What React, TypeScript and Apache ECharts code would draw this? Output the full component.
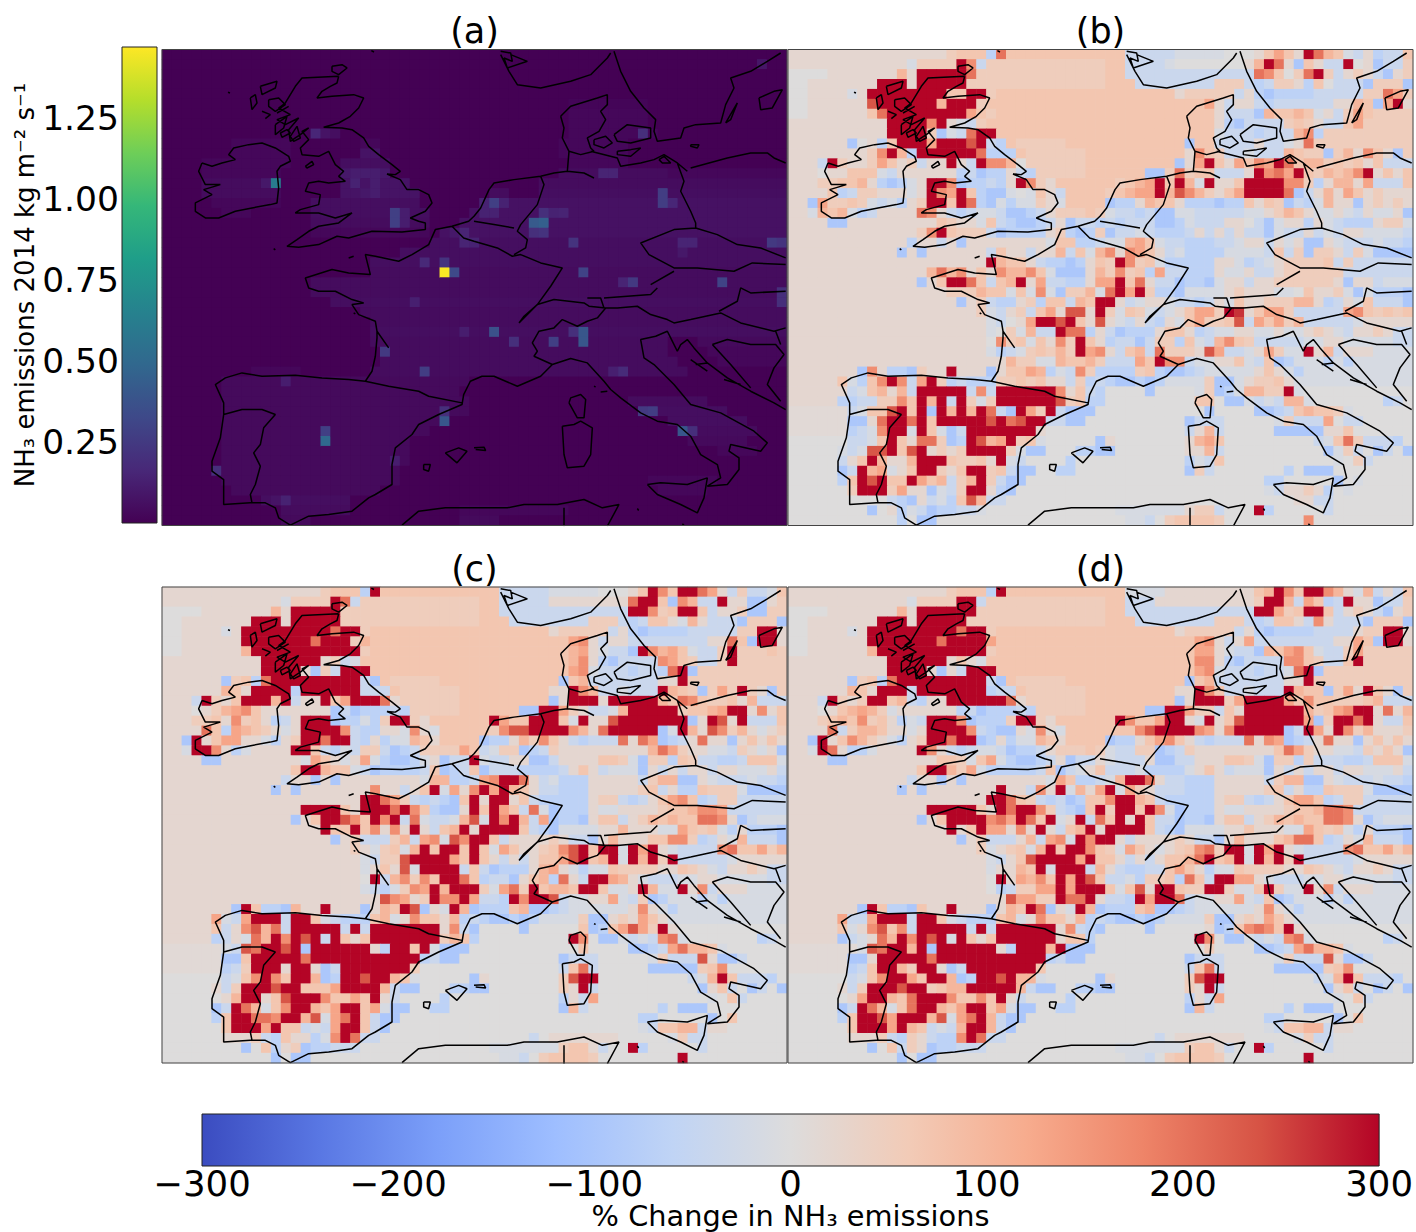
import React, { useEffect, useRef } from "react";
import * as echarts from "echarts";

const COLS = Array.from({ length: 63 }, (_, i) => String(i));
const ROWS = Array.from({ length: 48 }, (_, i) => String(i));
const panelTitles = ["(a)", "(b)", "(c)", "(d)"];
const changeTicksName = "% Change in NH₃ emissions";
const emissionName = "NH₃ emissions 2014 kg m⁻² s⁻¹";

// level code -> % change
const LEVELS: Record<string, number> = { a: -95, b: -65, c: -40, d: -15, "0": 0, e: 10, "1": 20, "2": 52, "3": 70, "4": 100, "5": 130, "6": 165, "7": 200, "8": 235, "9": 265, X: 300 };
const coolwarm = ["#3b4cc0", "#5977e3", "#7b9ff9", "#9ebeff", "#c0d4f5", "#dddcdc", "#f2cbb7", "#f7ac8e", "#ee8468", "#d65244", "#b40426"];
const viridis = ["#440154", "#482878", "#3e4989", "#31688e", "#26828e", "#1f9e89", "#35b779", "#6ece58", "#b5de2b", "#fde725"];

// panel (a): [row, fromCol, toCol, kg m-2 s-1] background land bands
const panelABands: number[][] = [
  [5, 41, 48, 0.02], [6, 41, 48, 0.03], [7, 41, 48, 0.03], [8, 15, 17, 0.06], [8, 41, 49, 0.03], [9, 7, 12, 0.03], [9, 20, 21, 0.03], [9, 40, 46, 0.03],
  [10, 7, 12, 0.03], [10, 20, 21, 0.08], [10, 40, 46, 0.03], [11, 4, 12, 0.03], [11, 18, 22, 0.06], [11, 41, 46, 0.03],
  [12, 4, 11, 0.03], [12, 18, 22, 0.1], [12, 40, 50, 0.05], [12, 51, 62, 0.03], [13, 4, 11, 0.05], [13, 18, 24, 0.08], [13, 38, 62, 0.05],
  [14, 4, 11, 0.05], [14, 18, 25, 0.08], [14, 33, 34, 0.05], [14, 38, 62, 0.06], [15, 5, 11, 0.03], [15, 15, 25, 0.06], [15, 32, 62, 0.07],
  [16, 6, 8, 0.03], [16, 15, 26, 0.06], [16, 31, 62, 0.07], [17, 15, 26, 0.05], [17, 30, 62, 0.07], [18, 15, 26, 0.03], [18, 28, 62, 0.07],
  [19, 27, 62, 0.06], [20, 24, 62, 0.06], [21, 21, 62, 0.06], [22, 21, 62, 0.05], [23, 15, 62, 0.05], [24, 15, 62, 0.05], [25, 17, 62, 0.06],
  [26, 20, 62, 0.05], [27, 21, 62, 0.05], [28, 21, 62, 0.06], [29, 21, 50, 0.05], [29, 54, 62, 0.04], [30, 22, 50, 0.05], [30, 55, 62, 0.03],
  [31, 22, 51, 0.05], [31, 56, 62, 0.03], [32, 9, 13, 0.03], [32, 21, 42, 0.05], [32, 42, 52, 0.05], [33, 6, 30, 0.04], [34, 6, 29, 0.04], [35, 6, 30, 0.04],
  [35, 47, 54, 0.05], [36, 6, 30, 0.04], [36, 48, 56, 0.06], [37, 6, 27, 0.04], [37, 51, 58, 0.06], [38, 6, 26, 0.04], [38, 52, 59, 0.05],
  [39, 6, 24, 0.04], [39, 53, 58, 0.04], [40, 6, 24, 0.04], [40, 56, 59, 0.03], [41, 6, 24, 0.04], [42, 5, 23, 0.04], [43, 6, 23, 0.04], [43, 49, 55, 0.03],
  [44, 7, 21, 0.04], [44, 50, 54, 0.03], [45, 10, 18, 0.06], [46, 12, 18, 0.05], [46, 30, 40, 0.03], [47, 12, 14, 0.04], [47, 30, 33, 0.04],
];
// panel (a): [col, row, value] individually readable cells
const panelASpots: number[][] = [
  [28, 22, 1.46], [29, 22, 0.33], [28, 21, 0.22], [26, 21, 0.17], [11, 13, 0.62], [10, 13, 0.1], [23, 16, 0.28], [23, 17, 0.28], [24, 16, 0.12], [24, 17, 0.12],
  [37, 17, 0.42], [38, 17, 0.45], [38, 16, 0.2], [37, 18, 0.2], [38, 18, 0.22], [33, 15, 0.28], [32, 15, 0.14], [34, 15, 0.14], [32, 16, 0.14], [33, 16, 0.14],
  [41, 19, 0.22], [50, 14, 0.27], [50, 15, 0.27], [51, 15, 0.16], [42, 22, 0.3], [47, 23, 0.25], [46, 23, 0.15], [56, 23, 0.3], [61, 19, 0.25], [62, 19, 0.22],
  [33, 28, 0.37], [35, 29, 0.2], [42, 28, 0.4], [42, 29, 0.4], [41, 28, 0.2], [39, 29, 0.28], [26, 32, 0.27], [22, 30, 0.25], [25, 25, 0.13], [30, 28, 0.12],
  [48, 36, 0.25], [49, 36, 0.27], [52, 38, 0.4], [53, 38, 0.2], [46, 32, 0.18], [45, 32, 0.13], [16, 39, 0.5], [16, 38, 0.28], [28, 37, 0.4], [28, 36, 0.2],
  [12, 33, 0.12], [5, 42, 0.2], [12, 45, 0.14], [11, 45, 0.08], [23, 41, 0.12], [48, 8, 0.2], [60, 1, 0.09], [15, 8, 0.16], [16, 8, 0.08], [62, 24, 0.2], [62, 25, 0.2],
  [44, 12, 0.15], [45, 12, 0.15], [19, 12, 0.12], [20, 12, 0.12], [21, 12, 0.12], [19, 13, 0.14], [21, 13, 0.12], [21, 14, 0.12], [20, 14, 0.1], [40, 16, 0.15], [39, 16, 0.14],
  [30, 19, 0.15], [31, 19, 0.14], [30, 18, 0.15], [29, 18, 0.1], [52, 20, 0.1], [53, 19, 0.15], [52, 19, 0.15],
];

const panelBRows = [
  "1111111111 1111112333 b733333333 3333cccccd dddd000135 31X743dc1b cc3",
  "1111111111 11d2222X6c 2222222222 2233ccccd0 00000014X7 1a31ccX01a cc2",
  "0000111111 141XXXXX72 2222222222 2233cccccc ccccccc763 027X2c121c a12",
  "001111111X XX1XXXXX22 2222222222 22333ccccc ccc222cbc2 21b30ccca2 22a",
  "001111d1XX XXXXXX33XX 2333333333 3333333331 22222c1bab bbbccccc22 752",
  "001111118X XXXXX4XXX2 3333333333 3333333333 3351c11cbc ccccc1143a 5X1",
  "0011111137 XXXXXXXX53 2333333333 3333333333 3331ccca43 343d1c2532 222",
  "1111111111 XXXX6X1dc2 3333333333 3333333333 3331bacccc 2321cc3522 222",
  "1111111111 XXXX2adc7X X333333333 3333333333 333dcccbcc c46b222222 222",
  "111111a01b 3XXX5XXX8X cb32222233 3333333333 a33cccc1cc d172222222 222",
  "1111111126 X4bXXXXXX7 bbb3222222 3333333333 1632ccdccc 4322a24163 1a2",
  "111cX21125 312c11X1cX 6640222222 333333333a 15X315365X 7344232313 ccc",
  "111011333d c111111bca bb1cb22222 333333aa27 233ccc1X67 5X324346X1 313",
  "111223341b abd1XX6abb cb1X621333 3332345X3X 4dX113XXXX 662b14415c cc3",
  "11113bc221 11d1X65X3b aad0d31c33 3323455X48 642135XXXX 7ac1415312 111",
  "11a52232dc db12XX3X7b adbdd21d33 33abb14331 bbbabb3132 acbd411a12 121",
  "11d434dbc1 111761cbcd dcaabc1222 32dccbcaad dcccccdd12 431dd1dc1d d1a",
  "1111aa1111 111113211d 3cbaabc1ac cbcbcccaab dccc110cad 11b1dcbbb1 22d",
  "1111111111 11126X3222 cabbbb12ba b2accdcbbb c1c1c1ccad cc1cdc11dd ddc",
  "1111111111 11b11c1a11 111111d33b bcdd453dcc bbbccd11c1 d1aa1dcccd ccb",
  "1111111111 1a1a111111 c311c114c3 d4616531cd bbbbddddc3 c2a221c2da aaa",
  "1111111111 1111111111 X4331cbbab 132X623dbb bbb11dbcd1 22223c2ccc ccc",
  "1111111111 1111474613 164463daaa 142623b5cc bbb1dd1cc1 222222cccc ccc",
  "1111111111 111a13XX73 c34X15ccbb 155X371cca bbad11c112 222221a11c ddd",
  "1111111111 1111112224 33d3d6da22 4d7X5X2bba dddd12111d d03112dadb bba",
  "1111111111 1111111a12 cbb12b33c4 3XX1cd11dc cbc1d31122 2441bc1d3c cca",
  "1111111111 1111111112 dc12c35188 1X2d32dcd1 3552X91355 2ccccc5632 323",
  "1111111111 1111111111 dc015XX8X3 181dc1cb1d 352238c535 24cccccd11 111",
  "1111111111 1111111111 d02d4ccX77 b1cabbb133 1bcdd11dd1 dd121dc112 1cc",
  "1111111111 1111111111 0623d3162X 31bccac22b 3dc4632ccc ccdd11dddd dcc",
  "1111111111 1111111111 dbcd23242X 561c34c722 2185ccd152 ddX14c111d ddd",
  "1111111111 1111111111 11422dd433 42ccc53X66 cdd113dc3a bdddbdbddd ddd",
  "1111111a61 bba211X111 a13354bdc6 2bbbb23baa bcddddd131 dbdddddddd ddd",
  "111113db36 X6c5X2bcbb b2232311c2 bcbaababdd dd2aad1223 1ddddddddd ddd",
  "111111cd34 14cXXXXXc6 cXXXXXX613 cb0000a000 0d2abd4422 Xd00000000 000",
  "11111bbcc2 263X4XcX2d 2XXXXXX823 bb00000000 0330aadcdc 44d0000000 bc0",
  "eeeeeecd33 8X3XaX4X4X 7caX52Xcaa a000000000 00a0000aab c34332d000 000",
  "eeeeeeaa17 XX7X3XXXXX 8X78XXccaa 0000000000 accc00000d 2ccc50cc00 000",
  "eeeeeebcd6 XXdX3dacXX XXXXX10000 0000000000 c14c00000a aaaa113000 000",
  "000000ccd3 X31772abX8 45X23d0000 0a10000000 1453000000 000cd372cc cb0",
  "00000dcd88 X38X1212XX XX2daa000b baa0000000 114c000000 0000ad2c0a c0a",
  "00000c13X4 114XXX3223 1Xdc0000b0 0000000000 bdc3000000 00000d02c0 000",
  "00000acX45 d13XX213XX 23caa00bb0 0000000000 a2c0000000 b0aaa00000 000",
  "00000b3X8X 33X534c24X 2caa000000 0000000000 00000000bb 00000a0d00 000",
  "0000002XXX 2511adc2XX 1ba0000000 0000000000 00000000dc 1121b0d000 000",
  "0000000000 cba1cdb384 cc00000000 0000000000 0000000000 011cc00000 000",
  "00000000a0 1bdcabbccd 0000000000 000ddddddd 122c000Xb0 0000c00000 000",
  "0000000000 0b0aa00000 0000000000 0000ddc023 3332000000 0060000000 000",
];

const panelCRows = [
  "1111111111 1111112333 bX33333333 3333cccccd dddd00013X 63XX751c2c cd3",
  "1111111111 11d2222X7c 2222222222 2233ccccc1 11111117XX 3a64ccX11a a12",
  "0000111111 141XXXXX22 2222222222 2233cccccc cccccccXX6 23XX3c112a a22",
  "001111111X XX1XXXXX22 2222222222 22333ccccc ccc222cbc3 31d41ccca2 22a",
  "001111d1XX XXXXXXX7XX 2333333333 3333333331 22222c1bab bbbccccc22 XX1",
  "00111111XX XXXXX7XXX2 4333333333 3333333333 3561c11ccc ccccc1173a XX1",
  "001111114X XXXXXXXXXX 2333333333 3333333333 3451dccaX6 453dcc2X22 232",
  "1111111111 XXXXXX12cd 3333333333 3333333333 3461bacccc 6532cc2X22 222",
  "1111111111 XXXX1a2cXX X333333333 3333333333 356dcccbcc b7Xa222222 222",
  "111111a23b 7XXXXXXXXX ca32222233 3333333333 a34ccccccc 11X2222222 222",
  "111111431X XXXbXXXXXX ccc3222222 3333333331 1X64ccdccc X432a252X2 1a2",
  "111cX213XX X4Xc11X35X XX71222222 333333333a 1XXX1XXXXX 4376322314 ccc",
  "1110124563 1111111aca bbbcb22222 333333aaXX 521ccd4XXX XX23345XX1 613",
  "1112231623 1bc1XXXabb db2XX21333 333X533XXX 3dX118XXXX XXXa1X81Xc cc3",
  "111173b543 21d1XXXX6c bb11d61d33 3332688XXX X6417XXXXX adX4186241 d12",
  "11aX135511 db12XX7XXc b1bdd43133 33abb14263 1cbccc7175 abc1711a13 131",
  "11dXX61bd1 111XX3cbdc 22cabc2222 53cd22abc2 1111111114 75211ddc21 d1a",
  "1111aa1111 1111d531d1 5dbaabd1ac cXdcc11aac 1111332da2 2b32ccbbc3 33d",
  "1111111111 1113XX433d cabbbbc3ab c3acccbbbb c131cddda1 c1c11c11dd d1c",
  "1111111111 11c11a1a11 111111d44b bc56XX71cd bbb11111c2 44aa1dcccd ccb",
  "1111111111 1a1a111111 1611c13Xd5 16X5X431cc bbb1111123 c1bb3222da aaa",
  "1111111111 1111111111 XX752cbcba 3X1XX13cbb bbb122cbc1 3563bc22cc ccc",
  "1111111111 1111XXXX31 XXX7X63baa 1X3X53c7da bbb1dd1111 2334665ccc ccc",
  "1111111111 111a13XX86 3X6Xc7dccd 48dX6X4c5a bba133c124 34337761ac ddd",
  "1111111111 111111X33X 36161X1c34 X1XXXX3cba dddd114111 dd5323db1b bba",
  "1111111111 1111111a12 ccc24c56d8 6XX3c11112 1cca141113 3662bc1d4c cca",
  "1111111111 1111111112 1d23d4X3XX 3X3d531123 68X3XXdX5X 1dcccc6733 524",
  "1111111111 1111111111 dc228XXXX5 3X31c1c133 58X34XdX4X 2Xcccccd11 111",
  "1111111111 1111111111 d1318dXXXX c3cabbb145 1dbdd32222 11321dc112 1cc",
  "1111111111 1111111111 0Xc46263XX 73bcca134b 71cXX541dc ccdd11dddd dcc",
  "1111111111 1111111111 dcbd265X4X XX2d572X34 43XX3dd1X4 ddX16c111d ddd",
  "1111111111 1111111111 1186512X66 X5ccbX6XX8 cdd115dc2a bdddbdbddd ddd",
  "1111111aX3 bba411X111 a143X8a1dX 4abbb34aab cdddddd161 dbdddddddd ddd",
  "111115dc5X XXcXX3dcbb b34d163314 bcbaababdd dd2aa12153 1ddddddddd ddd",
  "111113c168 47cXXXXXcX cXXXXXXX16 ca0000a000 003ab35852 X100000000 000",
  "11111bc1d7 4X6X8XcX31 3XXXXXXX24 3b00000000 0X60aadcdc 67d0000000 bc0",
  "eeeeeedc87 XX8XaXXXXX X1bXX3Xdaa a000000000 0030000aab c57443d000 000",
  "eeeeeeaa3X XXXX7XXXXX XXXXXXbcaa 0000000000 accc00000d 2ccc81aac0 000",
  "eeeeeebc2X XX1XX1acXX XXXXX20000 0000000000 c37c00000a aaaa236000 000",
  "000000cd36 X63XX4abXX 8XX43d0000 0a10000000 28XX000000 000cd4X3cc cb0",
  "000001c2XX X8XX3335XX XX4caa000b baa0000000 21Xc000000 0000a13c0a c0a",
  "00000014XX 138XXX6335 3X1c0000b0 0000000000 b1c5000000 00000d03c0 000",
  "00000acX74 d36XX435XX 35daa00bb0 0000000000 a4c0000000 b0aaa00000 000",
  "00000b3XX7 76XX48d57X 3caa000000 0000000000 00000000bb 00000a0300 000",
  "0000003XXX 5X33cdc5XX 3ca0000000 0000000000 00000000dc 3344c11000 000",
  "0000001112 cb311bd6X7 cc00000000 0000000c01 1111110000 0d2cc00000 000",
  "00000000a0 3b12abbccc 0000000000 000ddddddd 2331c00Xb0 0000c00000 000",
  "0000000000 0a0aa00000 0000000000 0000ddc023 3332000000 00X0000000 000",
];

const panelDRows = [
  "1111111111 1111112333 bX33333333 3333dddd11 111111134X 63XX641d4c 1c3",
  "1111111111 11d2222XXc 2222222222 2233ccc111 11111112XX 4c53bcX11a cc2",
  "0000111111 141XXXXXX2 2222222222 2233cccccc cccccccXX5 23XX3c121c a12",
  "001111111X XX1XXXXX22 2222222222 22333ccccc ccc222cbc3 31c61ccca2 22a",
  "001111d1XX XXXXXXX7XX 2333333333 3333333331 22222c1bab bbbcccc122 XX1",
  "00111111XX XXXXX7XXXX 5333333333 3333333333 3561c15ccc ccccc1153a XX1",
  "001111114X XXXXXXXXXX 2333333333 3333333333 3551dcca43 563dcc2522 222",
  "1111111111 XXXXXX131d 3333333333 3333333333 3661bacccc 6632cc3X22 222",
  "1111111111 XXXX1a1cXX X333333333 3333333333 356dcccbcc d7Xa222222 222",
  "111111a23b 7XXXXXXXXX ca32222233 3333333333 a34ccccccc 11X2222222 222",
  "111111431X XXcXXXXXXX bcc3222222 3333333331 1X63ccdccc X433a251X3 1a2",
  "111cX212XX 34cb11XXXX XX71222222 333333333a 1XXX25XXXX 5363322234 ccc",
  "1110134542 d111111bca bbbcb22222 333333aaXX 522c31XXXX XX42356XX1 714",
  "1112343623 1bdcXXX6ab bb2XX21333 333X6335XX 1dX138XXXX XX5a2XX7X1 cc3",
  "11117c2443 11d1XXXX6c baa1d61d33 3333368XXX X6516XXXXX acX51X6241 112",
  "11aX136421 db12XX7XXa b1bdd43133 33abb13563 1cbccc7165 abc1711a13 131",
  "11dX71bbd1 111X61cbcd dcabbc1222 32dcc22abc 2111111113 75211ddc21 31a",
  "1111aa1111 11111332d3 5dbaabc1ac c1dccc1aac c111332da2 2b2cccbbc3 33d",
  "1111111111 1113XX425d bbbbbc3acd 13cccdbbbb d131cddda1 c1c11c11dd d1c",
  "1111111111 11c11a1a11 111111d53b bcd4XX71cc bbb11111c2 44aa1dcccd ccb",
  "1111111111 1a1a111111 1X11c61Xd4 15Xd521ccc bbb1111123 c1bb3222da aaa",
  "1111111111 1111111111 XX732cbcab 336XX43cbb bbb122cbc1 3553bc22cc ccc",
  "1111111111 1111XXXXX3 1X7XX62cba 3X2XX3X6da bbb1dd1111 2334776ccc ccc",
  "1111111111 111a13XXXX 675X73Xd1X c73X1X3cca bba133c124 34337761ac ddd",
  "1111111111 111111X13X 55161X1c34 X1XXXX3cba dddd113111 dd5323db1b bba",
  "1111111111 1111111a12 ccc14c56dX 6XX1c11112 1cca141113 4773bc1d4c cca",
  "1111111111 1111111112 d123d4X3XX 632d531d12 3672XXdX5X 1dcccc6733 524",
  "1111111111 1111111111 dc138XXXX5 X331c1c133 47X34XdX4X 2Xcccccd11 111",
  "1111111111 1111111111 d1143XdXXX c41cbbcc35 31bdd32222 11321dc112 1cc",
  "1111111111 1111111111 0X15463X5X 83ccdb223b 73cXX551dc ccdd11dddd dcc",
  "1111111111 1111111111 0bc2255X5X XX3d381XX3 22XX2dd3X2 ddX16c111d ddd",
  "1111111111 1111111111 1185522X77 X1ccbX5XX7 cdd115dc3a bdddbdbddd ddd",
  "1111111aX3 bba311X111 a143X7a1dX 4abbb34aab cdddddd161 dbdddddddd ddd",
  "111115cc5X XXcXX3dcbb b34d163314 bcbaababdd dd2aa12153 1ddddddddd ddd",
  "111113d168 36cXXXXXcX cXXXXXX16c ba0000a000 001ab36763 X100000000 000",
  "11111acd17 4X6X8XdX31 3XXXXXX133 b000000000 0X60aadcdc 67d0000000 bc0",
  "eeeeeeed87 XX4XaXXXXX X1bXXX4Xaa a000000000 0020000aab c57443d000 000",
  "eeeeeeaa1X XXXX7XXXXX XXXXXXbcaa 0000000000 accc00000d 2ccc81aac0 000",
  "eeeeeebc3X X42XX1acXX XXXXX30000 0000000000 c37c00000a aaaa236000 000",
  "000000cd36 XX53XX4abX X8X44d0000 0a10000000 28XX000000 000cd4X3cc cb0",
  "000001c2XX X8XX2344XX XXX4caa00b baa0000000 21Xc000000 0000a13c0a c0a",
  "00000015XX 437XXX6336 3X1c0000b0 0000000000 b1c5000000 00000d03c0 000",
  "00000acX74 d37XX435XX 35daa00bb0 0000000000 a4c0000000 b0aaa00000 000",
  "00000b3XX8 5XXX48d57X 4caa000000 0000000000 00000000bb 00000a0300 000",
  "0000003XXX 5X43cdc4XX 4ca0000000 0000000000 00000000dc 3344c11000 000",
  "0000001112 cb21cbb6X7 cc00000000 0000000c01 1111110000 0d2cc00000 000",
  "00000000a0 3c21abbccc 0000000000 000ddddddd 2331c00Xb0 0000c00000 000",
  "0000000000 0a0aa00000 0000000000 0000ddc023 3332000000 00X0000000 000",
];

// coastlines and borders in map units (3 per pixel of a panel)
const q2 = (p: number[]) => p.map((v, i) => (i % 2 ? v : v + 936));
const q3 = (p: number[]) => p.map((v, i) => (i % 2 ? v + 720 : v));
const q4 = (p: number[]) => p.map((v, i) => (i % 2 ? v + 720 : v + 936));

const coastLines: number[][] = [
  [530,85,525,105,505,115,480,130,465,150,510,145,575,140,605,150,590,180,565,205,530,225,485,238,540,240,570,245,605,270,620,295,650,320,690,350,715,370,700,380,675,378,715,395,735,425,770,425,800,440,810,465,790,490,745,510,770,520,790,525,790,545,720,552,630,550,560,570,525,565,470,590,410,598,375,595,405,575,440,550,470,535,530,525,570,495,520,510,470,495,400,495,415,485,470,470,475,440,430,430,440,405,470,400,500,405,550,400,530,385,545,370,520,350,500,310,470,325,420,320,415,300,440,275,420,250,440,240,415,260,400,270,385,280,380,245,410,210,370,230,345,215,385,200,350,180,370,165,385,140,400,115,420,90,530,85],
  [120,345,150,355,180,345,220,335,200,320,215,300,260,290,300,285,340,300,380,325,385,340,355,355,345,370,350,420,345,465,325,470,270,480,220,490,170,510,130,510,100,490,100,465,150,440,125,425,175,410,130,410,110,370,120,345],
  [295,115,345,100,340,120,300,140,295,115],
  [265,150,280,140,285,165,270,185,265,150],
  [320,155,350,150,370,170,340,190,320,175,320,155],
  [340,230,375,205,365,240,340,260,340,230],
  [385,265,405,235,415,270,395,280,385,265],
  [430,355,450,340,455,350,435,360,430,355],
  [510,55,540,50,555,60,530,80,510,70,510,55],
  [300,190,325,200,310,212],[345,195,380,175],[355,255,375,245,385,255,360,268,355,255],
  [628,8,636,12],
  [560,630,575,625],[198,133,204,135],[335,602,340,606],
  [...q2([360,390,330,375,280,370,240,375,200,385,120,395,60,405,45,425,20,480,0,505]), 920,520,870,535,820,545,800,590,750,620,710,640,640,625,610,620,625,680,560,675,510,665,430,690,
    ...q3([440,0,470,10,520,10,570,35,605,45,570,50,590,80,640,100,645,130,645,150,640,205,630,250,610,280,560,275,480,270,400,262,300,265,240,255,190,270,160,290,185,345,185,380,175,450,150,520,150,550,185,575,185,650,265,645,310,645,340,660,350,690,385,712,440,685,500,680,570,670,620,630,640,620,690,590,690,530,700,480,750,440,770,410,830,380,900,350,905,320,925,280,960,265]),
    ...q4([60,265,130,295,200,265,235,230,290,212,340,225,390,280,410,305,440,330,500,375,550,400,610,410,650,445,680,500,730,530,740,570,700,595,760,590,795,545,795,510,765,490,770,470,860,490,880,465,840,430,740,375,650,350,600,290,540,230,510,210,500,155,545,145,580,130,590,150,610,190,620,170,640,155,660,180,700,225,760,270,830,310,900,345,935,365])],
  q3([645,130,680,180]),
  q2([80,20,105,70,130,110,200,120,290,100,350,80,400,30,410,15]),
  q2([80,10,110,15,115,40,90,30,100,60,160,40,110,20]),
  q2([420,10,440,70,470,130,510,180,545,215,540,250,550,280,620,270,630,240,665,230,740,225,755,170,780,120,770,90,830,70,880,40,920,15]),
  q2([260,205,290,175,370,150,400,140,400,170,380,190,395,215,375,250,340,270,350,300,360,310,320,320,285,310,265,270,270,240,260,205]),
  q2([420,260,460,230,530,240,530,270,470,285,430,280,420,260]),
  q2([360,275,395,265,415,285,390,300,360,290,360,275]),
  q2([430,310,470,305,500,300,470,325,430,320,430,310]),
  q2([285,310,280,370]),
  q2([350,310,430,330,440,355,500,345,540,335,570,320,610,345,640,370]),
  q2([650,360,760,330,830,315,880,315,900,330,935,345]),
  q2([555,335,570,325,590,345,565,345,555,335]),
  q2([650,290,675,290,670,300,650,295,650,290]),
  q2([755,225,790,165,770,215,755,225]),
  q2([855,150,900,130,925,125,895,180,860,185,855,150]),
  q2([200,385,210,410,190,470,140,530,130,550,160,575,155,600,120,620]),
  [870,535,905,570,936,580,...q2([70,600,115,625,140,620,200,645,265,660,230,715]),...q4([190,50,135,105])],
  q2([0,520,60,530,120,540]),
  q2([610,345,630,400,620,430,650,490,665,525,665,540,730,560,790,590,860,600,935,630]),
  q2([665,540,600,545,500,585,525,620,600,660,670,660,780,670,835,645,935,650]),
  q2([530,710,600,670]),
  q4([135,105,150,85,190,50,240,35,330,45,345,55,395,60,370,90,340,100,310,115,265,95,240,120,195,130,175,165,190,190,180,205,235,230]),
  q4([340,30,380,30,390,60,430,60,490,55,530,80,580,95,600,105,650,95,740,75,800,105,900,130,935,120]),
  q4([390,30,530,20,550,0]),
  q4([735,70,790,40,800,0,830,15,935,10]),
  q4([715,170,760,155,830,170,905,170,930,200,900,240,880,290,920,340]),
  q4([715,170,770,230,830,300]),
  q4([905,130,920,170]),
  q4([650,215,700,250]), q4([665,230,700,225]), q4([760,270,830,310]), q4([750,275,800,290]),
  q3([185,380,240,365,300,365,340,380,305,420,295,470,275,495,295,535,280,590,265,620,270,645]),
  q3([610,280,680,295,770,310,800,325,900,345]),
  q4([285,345,290,330,320,320,335,335,330,390,310,390,285,345]),
  q4([265,415,300,410,320,400,355,420,350,500,330,535,280,540,270,500,265,415]),
  q4([520,590,560,585,640,590,700,570,690,630,670,675,620,650,550,620,520,590]),
  q4([0,480,30,478,35,488,5,485]),
  [...q3([720,712,770,670,850,660,936,660]),...q4([100,660,150,650,250,650,330,635,385,660,435,650,400,715])],
  q4([270,660,270,715]),
  q3([850,495,890,480,915,490,885,525,850,495]),
  q3([785,530,805,530,800,550,785,545,785,530]),
  q4([360,295,365,297]), q4([380,312,400,310]), q4([490,662,494,668]), q4([625,708,630,712]), q3([575,75,580,78]),
];

const cellsFromRows = (rows: string[]) => {
  const out: number[][] = [];
  rows.forEach((row, r) => {
    row.replace(/\s/g, "").padEnd(63, "0").split("").slice(0, 63).forEach((ch, c) => out.push([c, r, LEVELS[ch] ?? 0]));
  });
  return out;
};
const panelACells = () => {
  const m = new Map<string, number>();
  COLS.forEach((_, c) => ROWS.forEach((_, r) => m.set(c + "," + r, 0.004)));
  panelABands.forEach(([r, a, b, v]) => { for (let c = a; c <= b; c++) m.set(c + "," + r, v); });
  panelASpots.forEach(([c, r, v]) => m.set(c + "," + r, v));
  return Array.from(m.entries()).map(([k, v]) => { const [c, r] = k.split(",").map(Number); return [c, r, v]; });
};
const coastData = () => {
  const out: (number | string)[][] = [];
  coastLines.forEach((l) => {
    for (let i = 0; i < l.length; i += 2) out.push([l[i], l[i + 1]]);
    out.push(["-", "-"]);
  });
  return out;
};

const FONT = "DejaVu Sans";
const PANELS = [
  { left: 162, top: 49.5, bg: "#440154" },
  { left: 788, top: 49.5, bg: "#e4dbd6" },
  { left: 162, top: 587, bg: "#e4dbd6" },
  { left: 788, top: 587, bg: "#e4dbd6" },
];
const PW = 625;
const PH = 476;

export default function App() {
  const ref = useRef<HTMLDivElement>(null);
  useEffect(() => {
    const chart = echarts.init(ref.current!, undefined, { renderer: "svg" });
    const coast = coastData();
    const grid: any[] = PANELS.map((p) => ({ left: p.left, top: p.top, width: PW, height: PH, containLabel: false, show: true, backgroundColor: p.bg, borderWidth: 0 }));
    const xAxis: any[] = [];
    const yAxis: any[] = [];
    const series: any[] = [];
    const datasets = [panelACells(), cellsFromRows(panelBRows), cellsFromRows(panelCRows), cellsFromRows(panelDRows)];
    PANELS.forEach((_, i) => {
      xAxis.push({ type: "category", gridIndex: i, data: COLS, show: false });
      xAxis.push({ type: "value", gridIndex: i, min: 0, max: 1875, show: false });
      yAxis.push({ type: "category", gridIndex: i, data: ROWS, inverse: true, show: false });
      yAxis.push({ type: "value", gridIndex: i, min: 4.5, max: 1433, inverse: true, show: false });
      series.push({ type: "heatmap", xAxisIndex: i * 2, yAxisIndex: i * 2, data: datasets[i], silent: true, progressive: 0, z: 1 });
      series.push({ type: "line", xAxisIndex: i * 2 + 1, yAxisIndex: i * 2 + 1, data: coast, showSymbol: false, symbol: "none", silent: true, connectNulls: false, lineStyle: { color: "#000", width: 1.5 }, z: 3 });
    });
    // colour bars
    const cbV = grid.length;
    grid.push({
      left: 122, top: 47, width: 35, height: 476, show: true, borderColor: "#222", borderWidth: 1,
      backgroundColor: new echarts.graphic.LinearGradient(0, 1, 0, 0, viridis.map((color, k) => ({ offset: k / (viridis.length - 1), color }))),
    });
    xAxis.push({ type: "value", gridIndex: cbV, show: false });
    yAxis.push({
      type: "value", gridIndex: cbV, min: 0, max: 1.468, interval: 0.25, position: "left",
      axisLine: { show: false }, axisTick: { show: false }, splitLine: { show: false },
      axisLabel: { fontSize: 34.5, fontFamily: FONT, color: "#000", margin: 3, showMaxLabel: false, showMinLabel: false, formatter: (v: number) => v.toFixed(2) },
      name: emissionName, nameLocation: "middle", nameGap: 84, nameRotate: 90,
      nameTextStyle: { fontSize: 26, fontFamily: FONT, color: "#000" },
    });
    const cbH = grid.length;
    grid.push({
      left: 202, top: 1114, width: 1178, height: 52, show: true, borderColor: "#222", borderWidth: 1,
      backgroundColor: new echarts.graphic.LinearGradient(0, 0, 1, 0, coolwarm.map((color, k) => ({ offset: k / (coolwarm.length - 1), color }))),
    });
    xAxis.push({
      type: "value", gridIndex: cbH, min: -300, max: 300, interval: 100,
      axisLine: { show: false }, axisTick: { show: false }, splitLine: { show: false },
      axisLabel: { fontSize: 35.5, fontFamily: FONT, color: "#000", margin: -1, formatter: (v: number) => String(v).replace("-", "−") },
      name: changeTicksName, nameLocation: "middle", nameGap: 32,
      nameTextStyle: { fontSize: 28.8, fontFamily: FONT, color: "#000" },
    });
    yAxis.push({ type: "value", gridIndex: cbH, show: false });
    chart.setOption({
      animation: false,
      backgroundColor: "#fff",
      title: PANELS.map((p, i) => ({
        text: panelTitles[i], left: p.left + PW / 2 - 5, top: p.top - 41, textAlign: "center",
        textStyle: { fontSize: 35, fontWeight: "normal", fontFamily: FONT, color: "#000" },
      })),
      grid, xAxis, yAxis, series,
      visualMap: [
        { show: false, type: "continuous", seriesIndex: 0, dimension: 2, min: 0.004, max: 1.468, inRange: { color: viridis } },
        { show: false, type: "continuous", seriesIndex: [2, 4, 6], dimension: 2, min: -300, max: 300, inRange: { color: coolwarm } },
      ],
      graphic: PANELS.map((p) => ({
        type: "rect", z: 50, silent: true,
        shape: { x: p.left, y: p.top, width: PW, height: PH },
        style: { fill: "none", stroke: "#444", lineWidth: 1 },
      })),
    });
    return () => chart.dispose();
  }, []);
  return (
    <>
      <style>{"svg rect, svg path { shape-rendering: auto; } svg g rect { shape-rendering: crispEdges; }"}</style>
      <div ref={ref} style={{ position: "absolute", left: 0, top: 0, width: 1416, height: 1232 }} />
    </>
  );
}
